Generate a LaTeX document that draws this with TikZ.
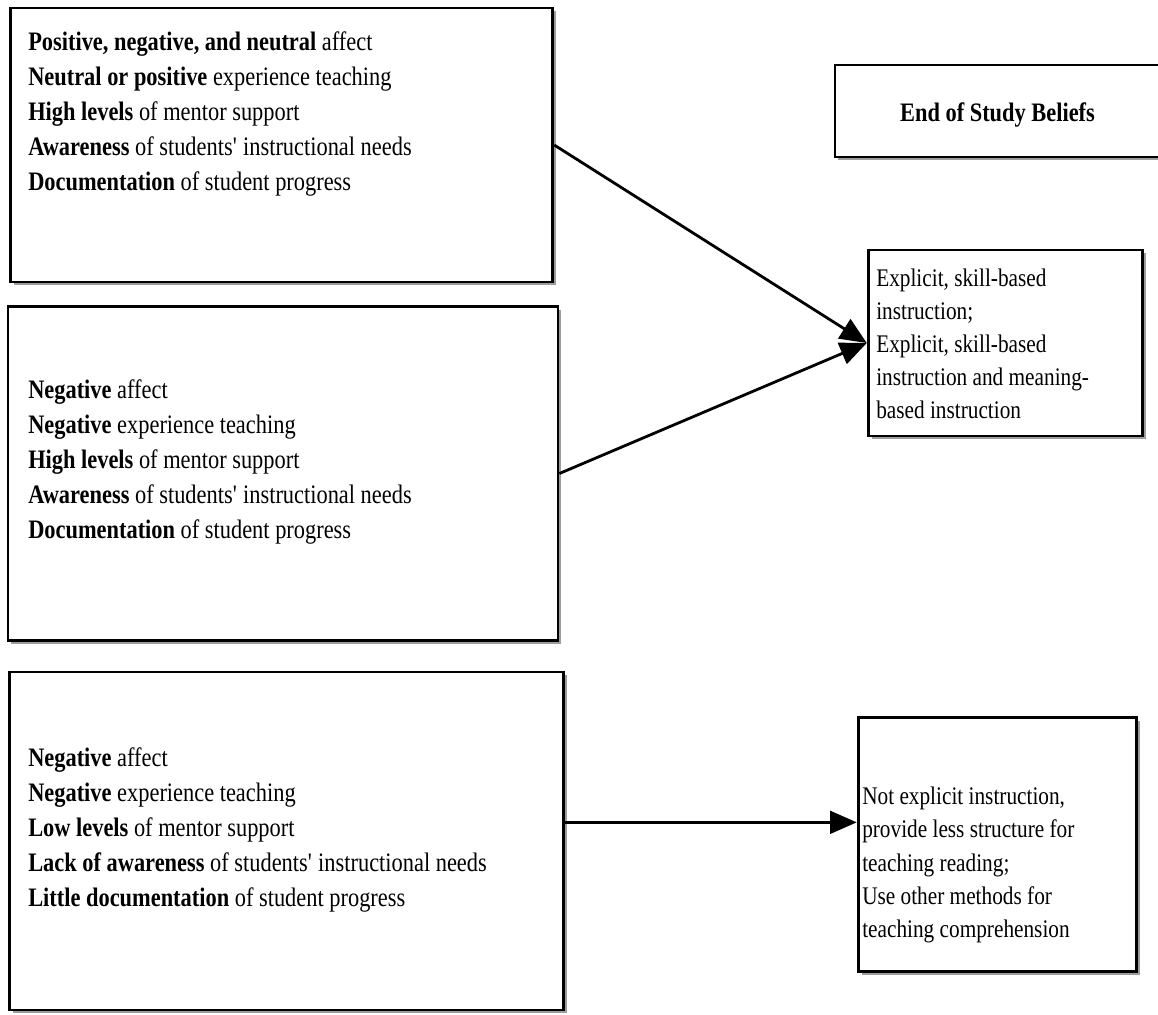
\documentclass[tikz,border=0pt]{standalone}
\usepackage{fontspec}
\setmainfont{Liberation Serif}[FakeStretch=0.84]
\usetikzlibrary{arrows.meta, positioning, shadows}

\begin{document}
\begin{tikzpicture}[
    x=0.75pt, y=-0.75pt,
    box/.style={
        rectangle, draw, line width=2.1pt, fill=white,
        drop shadow={shadow xshift=2.6pt, shadow yshift=-2.6pt, fill=black!55, opacity=0.7}
    },
    txt/.style={inner sep=0pt, align=left, anchor=west, font=\fontsize{20}{26.25}\selectfont},
    arr/.style={-{Triangle[length=20pt, width=17pt]}, line width=2.1pt},
]
\useasboundingbox (0,0) rectangle (1158,1015);

% Left column: conditions during the study
\node[box, minimum width=407pt, minimum height=205.5pt] (cond1) at (281.5,145) {};
\node[box, minimum width=412.5pt, minimum height=251pt] (cond2) at (283,473.5) {};
\node[box, minimum width=415pt, minimum height=253.5pt] (cond3) at (286.5,841) {};

\node[txt] (cond1txt) at (28,114)
    {\textbf{Positive, negative, and neutral} affect\\
     \textbf{Neutral or positive} experience teaching\\
     \textbf{High levels} of mentor support\\
     \textbf{Awareness} of students\textquotesingle{} instructional needs\\
     \textbf{Documentation} of student progress};

\node[txt] (cond2txt) at (28,462)
    {\textbf{Negative} affect\\
     \textbf{Negative} experience teaching\\
     \textbf{High levels} of mentor support\\
     \textbf{Awareness} of students\textquotesingle{} instructional needs\\
     \textbf{Documentation} of student progress};

\node[txt] (cond3txt) at (28,829.5)
    {\textbf{Negative} affect\\
     \textbf{Negative} experience teaching\\
     \textbf{Low levels} of mentor support\\
     \textbf{Lack of awareness} of students\textquotesingle{} instructional needs\\
     \textbf{Little documentation} of student progress};

% Right column: beliefs at the end
\node[box, minimum width=247.5pt, minimum height=69pt] (head) at (1000,111) {};
\node[inner sep=0pt, font=\fontsize{20}{26.25}\selectfont\bfseries] (headtxt) at (997.5,115) {End of Study Beliefs};

\node[box, minimum width=206pt, minimum height=139.5pt] (skill) at (1005.5,343) {};
\node[txt, font=\fontsize{19}{24.75}\selectfont] (skilltxt) at (876,344)
    {Explicit, skill-based\\instruction;\\Explicit, skill-based\\instruction and meaning-\\based instruction};

\node[box, minimum width=209pt, minimum height=191pt] (other) at (997.5,844.5) {};
\node[txt, font=\fontsize{19}{25}\selectfont] (othertxt) at (862,865)
    {Not explicit instruction,\\provide less structure for\\teaching reading;\\Use other methods for\\teaching comprehension};

% Arrows
\draw[arr] (cond1.east) -- (skill.west);
\draw[arr] (cond2.east) -- (skill.west);
\coordinate (c3out) at ([yshift=14pt]cond3.east);
\draw[arr] (c3out) -- (c3out -| other.west);

\end{tikzpicture}
\end{document}
